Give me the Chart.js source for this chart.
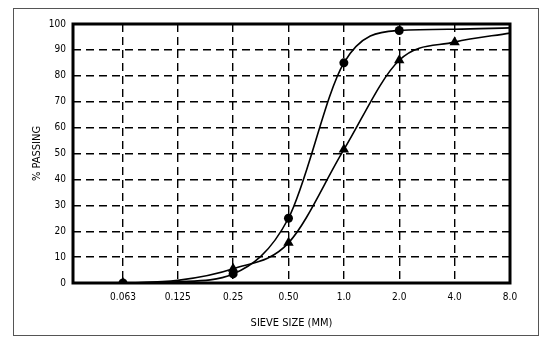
<!DOCTYPE html>
<html>
<head>
<meta charset="utf-8">
<script src="https://cdn.jsdelivr.net/npm/chart.js@4/dist/chart.umd.min.js"></script>
<style>
  html, body { margin: 0; padding: 0; background: #fff; }
  #wrap { position: relative; width: 543px; height: 340px; }
  #frame { position: absolute; left: 13px; top: 8px; width: 526px; height: 328px; border: 1px solid #555; box-sizing: border-box; pointer-events: none; }
  canvas { position: absolute; left: 0; top: 0; }
</style>
</head>
<body>
<div id="wrap">
  <div id="frame"></div>
  <canvas id="c" width="543" height="340"></canvas>
</div>
<script>
// Sieve sizes (mm) and their printed labels
const sieveSizes = [0.063, 0.125, 0.25, 0.5, 1.0, 2.0, 4.0, 8.0];
const sieveLabels = ['0.063', '0.125', '0.25', '0.50', '1.0', '2.0', '4.0', '8.0'];
// % passing, curve with circle markers
const passingCircle = [0, 0.5, 3.5, 25, 85, 97.5, 98, 98.5];
const circleMarked = [true, false, true, true, true, true, false, false];
// % passing, curve with triangle markers
const passingTriangle = [0, 1, 5.5, 15.5, 51.5, 86, 93, 96.5];
const triangleMarked = [true, false, true, true, true, true, true, false];
// y ticks
const yTicks = [0, 10, 20, 30, 40, 50, 60, 70, 80, 90, 100];

const FONT = "'DejaVu Sans Condensed', 'DejaVu Sans', sans-serif";

function pts(vals) { return sieveSizes.map((s, i) => ({ x: s, y: vals[i] })); }

const framePlugin = {
  id: 'frame',
  afterDatasetsDraw(chart) {
    const a = chart.chartArea, ctx = chart.ctx;
    ctx.save();
    ctx.strokeStyle = '#000';
    ctx.lineWidth = 3;
    ctx.strokeRect(a.left, a.top, a.right - a.left, a.bottom - a.top);
    ctx.restore();
  }
};

new Chart(document.getElementById('c'), {
  type: 'line',
  data: {
    datasets: [
      {
        data: pts(passingCircle),
        borderColor: '#000', borderWidth: 1.6,
        backgroundColor: '#000',
        pointStyle: 'circle',
        pointRadius: circleMarked.map(m => m ? 4.5 : 0),
        pointBorderWidth: 0,
        cubicInterpolationMode: 'monotone',
        fill: false
      },
      {
        data: pts(passingTriangle),
        borderColor: '#000', borderWidth: 1.6,
        backgroundColor: '#000',
        pointStyle: 'triangle',
        pointRadius: triangleMarked.map(m => m ? 6 : 0),
        pointBorderWidth: 0,
        cubicInterpolationMode: 'monotone',
        fill: false
      }
    ]
  },
  options: {
    responsive: false,
    animation: false,
    events: [],
    layout: { padding: { top: 24, right: 33, left: 0, bottom: 0 } },
    plugins: { legend: { display: false }, tooltip: { enabled: false } },
    scales: {
      x: {
        type: 'logarithmic',
        min: 0.0337,
        max: 8,
        afterBuildTicks(scale) { scale.ticks = sieveSizes.map(v => ({ value: v })); },
        afterFit(scale) { scale.height = 57; },
        ticks: {
          autoSkip: false, maxRotation: 0,
          color: '#000', padding: 8,
          font: { family: FONT, size: 10 },
          callback: (v) => { const i = sieveSizes.indexOf(v); return i >= 0 ? sieveLabels[i] : ''; }
        },
        grid: { color: '#000', lineWidth: 1.4, drawTicks: false },
        border: { display: false, dash: [8, 5] },
        title: {
          display: true, text: 'SIEVE SIZE (MM)', color: '#000',
          font: { family: FONT, size: 11 },
          padding: { top: 0, bottom: 10 }
        }
      },
      y: {
        min: 0, max: 100,
        afterBuildTicks(scale) { scale.ticks = yTicks.map(v => ({ value: v })); },
        afterFit(scale) { scale.width = 73; },
        ticks: {
          color: '#000', padding: 7,
          font: { family: FONT, size: 10 }
        },
        grid: { color: '#000', lineWidth: 1.4, drawTicks: false },
        border: { display: false, dash: [8, 5] },
        title: {
          display: true, text: '% PASSING', color: '#000',
          font: { family: FONT, size: 11 },
          padding: { top: 31, bottom: 0 }
        }
      }
    }
  },
  plugins: [framePlugin]
});
</script>
</body>
</html>
